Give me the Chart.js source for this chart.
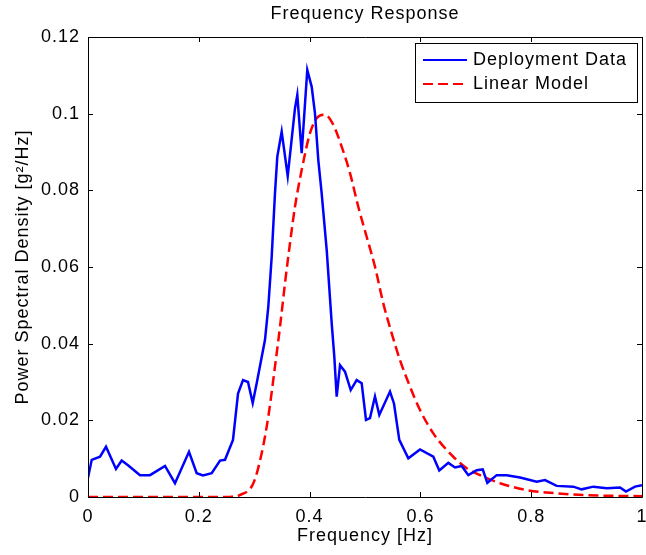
<!DOCTYPE html>
<html>
<head>
<meta charset="utf-8">
<script src="https://cdn.jsdelivr.net/npm/chart.js@4/dist/chart.umd.min.js"></script>
<style>
  body { margin: 0; background: #fff; }
</style>
</head>
<body>
<canvas id="psdChart" width="646" height="555"></canvas>
<script>
// Measured PSD (blue) - frequency [Hz] and PSD [g^2/Hz]
const deployFreq = [0.0, 0.0067, 0.0217, 0.0325, 0.0505, 0.0608, 0.0722, 0.0939, 0.1119, 0.139,
  0.157, 0.1823, 0.1962, 0.2076, 0.2233, 0.2383, 0.2473, 0.2617, 0.2708, 0.2798,
  0.2888, 0.2973, 0.3045, 0.3195, 0.3255, 0.3316, 0.3375, 0.3417, 0.3496, 0.3605,
  0.3736, 0.3778, 0.3857, 0.3958, 0.4038, 0.4097, 0.4157, 0.4218, 0.4309, 0.4399,
  0.4446, 0.4489, 0.4549, 0.4639, 0.4742, 0.485, 0.494, 0.5018, 0.509, 0.518,
  0.5258, 0.5451, 0.5523, 0.5619, 0.5782, 0.5993, 0.6233, 0.6341, 0.6504, 0.6625,
  0.6745, 0.6865, 0.7016, 0.7125, 0.7208, 0.7377, 0.7558, 0.7798, 0.8099, 0.8249,
  0.846, 0.876, 0.8911, 0.9121, 0.9363, 0.9603, 0.9711, 0.9874, 1.0];
const deployPsd = [0.005, 0.0097, 0.0105, 0.0131, 0.0073, 0.0095, 0.0083, 0.0057, 0.0057, 0.0081,
  0.0036, 0.0118, 0.0062, 0.0056, 0.0062, 0.0095, 0.0097, 0.0149, 0.027, 0.0305,
  0.030, 0.0245, 0.0297, 0.041, 0.0497, 0.0627, 0.0792, 0.0888, 0.0953, 0.0837,
  0.1014, 0.1049, 0.0897, 0.1114, 0.107, 0.1001, 0.0879, 0.0792, 0.0644, 0.0453,
  0.0366, 0.0262, 0.0344, 0.0327, 0.0279, 0.0305, 0.0297, 0.0201, 0.0206, 0.0262,
  0.0214, 0.0275, 0.0244, 0.0149, 0.0101, 0.0124, 0.0105, 0.0069, 0.0089, 0.0077,
  0.0081, 0.0057, 0.007, 0.0072, 0.0037, 0.0057, 0.0057, 0.0051, 0.004, 0.0044,
  0.0029, 0.0027, 0.002, 0.0027, 0.0023, 0.0025, 0.0014, 0.0027, 0.0031];

// Linear model (red dashed)
const modelFreq = [0.0, 0.1, 0.2, 0.25, 0.26, 0.274, 0.2985, 0.3135, 0.3255, 0.3375,
  0.3466, 0.3556, 0.3646, 0.3736, 0.3857, 0.4007, 0.4128, 0.4278, 0.4428, 0.4579,
  0.4729, 0.4879, 0.503, 0.518, 0.533, 0.5482, 0.5632, 0.5812, 0.5993, 0.6233,
  0.6594, 0.6836, 0.7136, 0.7437, 0.7919, 0.8339, 0.8941, 1.0];
const modelPsd = [0.0, 0.0, 0.0, 0.0, 0.0001, 0.0005, 0.0036, 0.0114, 0.021, 0.034,
  0.0444, 0.0558, 0.0662, 0.0757, 0.0853, 0.0949, 0.0988, 0.0997, 0.0971, 0.0914,
  0.0845, 0.0757, 0.0679, 0.0601, 0.0505, 0.0427, 0.0357, 0.0288, 0.0227, 0.0166,
  0.0105, 0.0075, 0.0053, 0.0036, 0.0018, 0.0011, 0.0005, 0.0002];

const xTicks = [0, 0.2, 0.4, 0.6, 0.8, 1];
const yTicks = [0, 0.02, 0.04, 0.06, 0.08, 0.1, 0.12];

const FONT = "'Liberation Sans', Arial, sans-serif";
Chart.defaults.color = "#000";
Chart.defaults.font.family = FONT;
Chart.defaults.font.size = 18;

const toPoints = (xs, ys) => xs.map((x, i) => ({ x: x, y: ys[i] }));

// MATLAB-like frame, inward ticks, title and legend
const matlabAxes = {
  id: "matlabAxes",
  beforeLayout(chart) { chart.ctx.letterSpacing = "1px"; },
  beforeDraw(chart) { chart.ctx.letterSpacing = "1px"; },
  afterDraw(chart) {
    const ctx = chart.ctx;
    const { left, right, top, bottom } = chart.chartArea;
    const xs = chart.scales.x, ys = chart.scales.y;
    ctx.save();
    ctx.strokeStyle = "#000";
    ctx.lineWidth = 1;
    ctx.beginPath();
    ctx.rect(Math.round(left) + 0.5, Math.round(top) + 0.5, Math.round(right - left), Math.round(bottom - top));
    xs.ticks.forEach(t => {
      const px = Math.round(xs.getPixelForValue(t.value)) + 0.5;
      ctx.moveTo(px, bottom); ctx.lineTo(px, bottom - 5);
      ctx.moveTo(px, top); ctx.lineTo(px, top + 5);
    });
    ys.ticks.forEach(t => {
      const py = Math.round(ys.getPixelForValue(t.value)) + 0.5;
      ctx.moveTo(left, py); ctx.lineTo(left + 5, py);
      ctx.moveTo(right, py); ctx.lineTo(right - 5, py);
    });
    ctx.stroke();

    // title
    ctx.fillStyle = "#000";
    ctx.font = "18px " + FONT;
    ctx.textAlign = "center";
    ctx.textBaseline = "middle";
    ctx.fillText("Frequency Response", (left + right) / 2, 14);

    // legend
    const bx = 415, by = 43, bw = 222, bh = 59;
    ctx.fillStyle = "#fff";
    ctx.fillRect(bx, by, bw, bh);
    ctx.strokeRect(bx + 0.5, by + 0.5, bw, bh);
    chart.data.datasets.forEach((ds, i) => {
      const y = 60 + i * 24;
      ctx.beginPath();
      ctx.strokeStyle = ds.borderColor;
      ctx.lineWidth = 2;
      ctx.setLineDash(ds.borderDash || []);
      ctx.moveTo(423, y); ctx.lineTo(467, y);
      ctx.stroke();
      ctx.setLineDash([]);
      ctx.fillStyle = "#000";
      ctx.textAlign = "left";
      ctx.fillText(ds.label, 473, y);
    });
    ctx.restore();
  }
};

const psdChart = new Chart(document.getElementById("psdChart"), {
  type: "line",
  data: {
    datasets: [
      {
        label: "Deployment Data",
        data: toPoints(deployFreq, deployPsd),
        borderColor: "#0000ff",
        borderWidth: 2.5,
        pointRadius: 0,
        tension: 0
      },
      {
        label: "Linear Model",
        data: toPoints(modelFreq, modelPsd),
        borderColor: "#ff0000",
        borderWidth: 2.5,
        borderDash: [10, 5],
        pointRadius: 0,
        cubicInterpolationMode: "monotone"
      }
    ]
  },
  options: {
    responsive: false,
    animation: false,
    layout: { padding: { left: 0, top: 37, right: 4, bottom: 0 } },
    plugins: {
      legend: { display: false },
      tooltip: { enabled: false }
    },
    scales: {
      x: {
        type: "linear",
        min: 0,
        max: 1,
        afterBuildTicks: s => { s.ticks = xTicks.map(v => ({ value: v })); },
        afterFit: s => { s.height = 58; s.paddingLeft = 0; s.paddingRight = 0; },
        grid: { display: false, drawTicks: false },
        border: { display: false },
        ticks: { padding: 9, maxRotation: 0, callback: v => String(Number(v.toFixed(1))) },
        title: { display: true, text: "Frequency [Hz]", padding: { top: 0, bottom: 8 } }
      },
      y: {
        type: "linear",
        min: 0,
        max: 0.12,
        afterBuildTicks: s => { s.ticks = yTicks.map(v => ({ value: v })); },
        afterFit: s => { s.width = 88; s.paddingTop = 0; s.paddingBottom = 0; },
        grid: { display: false, drawTicks: false },
        border: { display: false },
        ticks: { padding: 8, callback: v => String(Number(v.toFixed(2))) },
        title: { display: true, text: "Power Spectral Density [g\u00b2/Hz]", padding: { top: 12, bottom: 0 } }
      }
    }
  },
  plugins: [matlabAxes]
});
</script>
</body>
</html>
